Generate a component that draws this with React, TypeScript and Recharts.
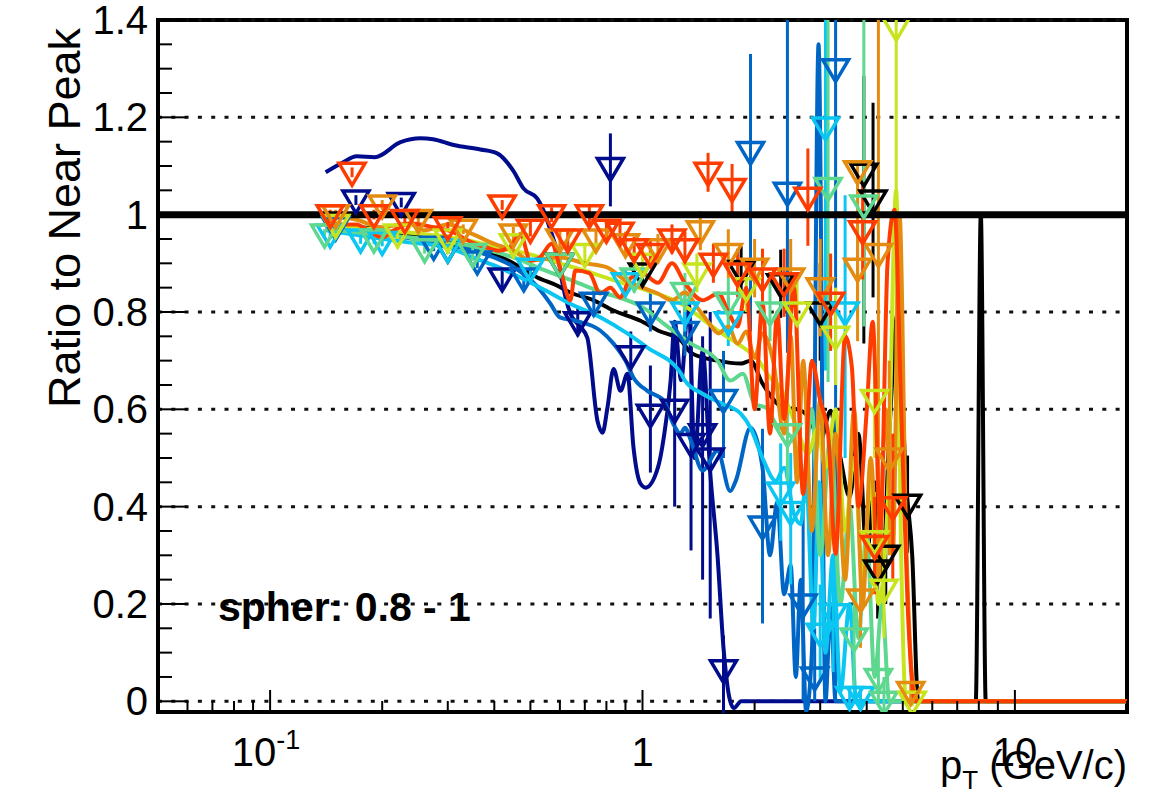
import React from 'react'
import {
  ComposedChart,
  ErrorBar,
  Line,
  ReferenceArea,
  ReferenceLine,
  Scatter,
  XAxis,
  YAxis,
} from 'recharts'

const WIDTH = 1154
const HEIGHT = 795
const FONT = '"Liberation Sans", Arial, Helvetica, sans-serif'

const X_DOMAIN: [number, number] = [0.05, 20]
const Y_DOMAIN: [number, number] = [-0.022, 1.4]

const xTicks = [0.05, 0.06, 0.07, 0.08, 0.09, 0.1, 0.2, 0.3, 0.4, 0.5, 0.6, 0.7, 0.8, 0.9, 1, 2, 3, 4, 5, 6, 7, 8, 9, 10, 20]
const xMajor = [0.1, 1, 10]
const yTicks = [
  0, 0.05, 0.1, 0.15, 0.2, 0.25, 0.3, 0.35, 0.4, 0.45, 0.5, 0.55, 0.6, 0.65, 0.7, 0.75,
  0.8, 0.85, 0.9, 0.95, 1, 1.05, 1.1, 1.15, 1.2, 1.25, 1.3, 1.35, 1.4,
]
const yMajor = [0, 0.2, 0.4, 0.6, 0.8, 1, 1.2, 1.4]
const yGrid = [0, 0.2, 0.4, 0.6, 0.8, 1.2, 1.4]

// smooth curves, [pT, ratio]
const blackCurve = [
  [0.141, 0.988], [0.165, 0.975], [0.19, 0.972], [0.235, 0.957], [0.274, 0.951], [0.311, 0.943],
  [0.367, 0.93], [0.45, 0.9], [0.522, 0.871], [0.591, 0.854], [0.64, 0.84], [0.74, 0.824],
  [0.836, 0.803], [0.988, 0.782], [1.1, 0.762], [1.27, 0.741], [1.35, 0.716], [1.59, 0.7],
  [1.84, 0.694], [1.95, 0.7], [2.1, 0.653], [2.4, 0.603], [2.6, 0.6], [2.8, 0.583], [3.0, 0.535],
  [3.2, 0.597], [3.3, 0.55], [3.4, 0.5], [3.6, 0.42], [3.8, 0.55], [4.0, 0.3], [4.2, 0.45],
  [4.4, 0.25], [4.6, 0.55], [4.85, 0.8], [5.1, 0.45], [5.3, 0.3], [5.5, 0], [7.85, 0], [8.1, 1.0],
  [8.35, 0], [20, 0],
]
const navyCurve = [
  [0.141, 1.087], [0.155, 1.105], [0.171, 1.12], [0.191, 1.118], [0.224, 1.149], [0.253, 1.157],
  [0.274, 1.155], [0.311, 1.143], [0.367, 1.134], [0.407, 1.126], [0.45, 1.09], [0.479, 1.054],
  [0.522, 1.033], [0.542, 1.009], [0.566, 0.968], [0.591, 0.92], [0.61, 0.858], [0.64, 0.797],
  [0.68, 0.77], [0.711, 0.747], [0.757, 0.576], [0.781, 0.552], [0.805, 0.603], [0.836, 0.683],
  [0.873, 0.638], [0.911, 0.673], [0.946, 0.521], [0.988, 0.447], [1.02, 0.439], [1.1, 0.48],
  [1.14, 0.541], [1.19, 0.659], [1.22, 0.78], [1.27, 0.66], [1.33, 0.82], [1.38, 0.5],
  [1.45, 0.72], [1.52, 0.47], [1.59, 0.3], [1.65, 0.11], [1.72, 0], [1.76, -0.014], [1.84, 0],
  [20, 0],
]
const blueCurve = [
  [0.141, 0.975], [0.19, 0.962], [0.235, 0.952], [0.3, 0.938], [0.367, 0.922], [0.45, 0.893],
  [0.522, 0.852], [0.566, 0.817], [0.6, 0.789], [0.66, 0.782], [0.77, 0.762], [0.836, 0.735],
  [0.9, 0.7], [0.946, 0.665], [1.03, 0.638], [1.14, 0.618], [1.21, 0.57], [1.265, 0.55],
  [1.3, 0.562], [1.35, 0.535], [1.45, 0.474], [1.59, 0.515], [1.72, 0.432], [1.78, 0.453],
  [1.95, 0.562], [2.1, 0.48], [2.2, 0.3], [2.3, 0.41], [2.4, 0.22], [2.5, 0.28], [2.58, 0.05],
  [2.66, 0.25], [2.75, -0.02], [2.85, 0.1], [2.97, 1.35], [3.1, 0], [3.2, 0.2], [3.3, 0], [20, 0],
]
const cyanCurve = [
  [0.141, 0.968], [0.19, 0.953], [0.235, 0.943], [0.3, 0.933], [0.35, 0.912], [0.41, 0.892],
  [0.47, 0.871], [0.55, 0.844], [0.64, 0.817], [0.77, 0.789], [0.91, 0.756], [1.03, 0.727],
  [1.27, 0.673], [1.3, 0.659], [1.45, 0.632], [1.64, 0.611], [1.84, 0.59], [1.95, 0.562],
  [2.1, 0.5], [2.28, 0.453], [2.4, 0.48], [2.55, 0.385], [2.66, 0.364], [2.75, 0.453],
  [2.88, 0.15], [2.98, 0.45], [3.1, 0.1], [3.25, 0.3], [3.4, 0.02], [3.6, 0.2], [3.75, 0], [20, 0],
]
const greenCurve = [
  [0.141, 0.97], [0.19, 0.96], [0.26, 0.95], [0.35, 0.935], [0.45, 0.912], [0.55, 0.885],
  [0.66, 0.862], [0.77, 0.842], [0.91, 0.824], [1.0, 0.81], [1.14, 0.776], [1.35, 0.735],
  [1.59, 0.7], [1.72, 0.659], [1.86, 0.673], [2.0, 0.611], [2.15, 0.603], [2.28, 0.57],
  [2.4, 0.556], [2.55, 0.535], [2.7, 0.45], [2.85, 0.6], [3.0, 0.3], [3.2, 0.55], [3.4, 0.2],
  [3.6, 0.4], [3.8, 0.13], [4.0, 0.35], [4.2, 0.05], [4.4, 0.2], [4.6, 0], [20, 0],
]
const yellowCurve = [
  [0.141, 0.98], [0.19, 0.97], [0.26, 0.96], [0.35, 0.945], [0.42, 0.93], [0.49, 0.92],
  [0.6, 0.9], [0.74, 0.879], [0.84, 0.865], [1.03, 0.844], [1.27, 0.817], [1.59, 0.762],
  [1.8, 0.735], [2.05, 0.7], [2.2, 0.665], [2.35, 0.644], [2.45, 0.611], [2.6, 0.562],
  [2.78, 0.508], [2.95, 0.56], [3.1, 0.48], [3.3, 0.6], [3.5, 0.35], [3.7, 0.5], [3.9, 0.25],
  [4.1, 0.45], [4.3, 0.2], [4.55, 0.4], [4.8, 1.05], [4.95, 0.3], [5.1, 0], [20, 0],
]
const orangeCurve = [
  [0.141, 1.0], [0.17, 0.99], [0.2, 0.974], [0.235, 0.982], [0.26, 0.968], [0.3, 0.98],
  [0.35, 0.96], [0.4, 0.94], [0.45, 0.926], [0.5, 0.906], [0.6, 0.912], [0.7, 0.9], [0.8, 0.892],
  [0.9, 0.865], [1.0, 0.85], [1.1, 0.838], [1.2, 0.824], [1.3, 0.84], [1.4, 0.81], [1.5, 0.78],
  [1.6, 0.756], [1.7, 0.77], [1.8, 0.735], [1.9, 0.76], [2.0, 0.706], [2.1, 0.756], [2.25, 0.694],
  [2.4, 0.55], [2.5, 0.75], [2.6, 0.45], [2.7, 0.7], [2.85, 0.35], [3.0, 0.62], [3.15, 0.3],
  [3.3, 0.55], [3.5, 0.25], [3.7, 0.6], [3.9, 0.2], [4.1, 0.5], [4.3, 0.25], [4.5, 0.6],
  [4.7, 0.3], [4.9, 1.0], [5.1, 0.35], [5.3, 0.05], [5.5, 0], [20, 0],
]
const redCurve = [
  [0.141, 1.0], [0.15, 0.98], [0.17, 0.98], [0.19, 0.96], [0.2, 0.953], [0.215, 0.968],
  [0.24, 0.982], [0.275, 0.974], [0.31, 0.964], [0.34, 0.947], [0.38, 0.933], [0.41, 0.926],
  [0.44, 0.933], [0.47, 0.96], [0.5, 0.906], [0.53, 0.912], [0.57, 0.94], [0.6, 0.892],
  [0.64, 0.824], [0.66, 0.885], [0.72, 0.88], [0.77, 0.838], [0.82, 0.85], [0.87, 0.83],
  [0.93, 0.87], [1.0, 0.879], [1.1, 0.86], [1.2, 0.9], [1.3, 0.859], [1.45, 0.824], [1.6, 0.838],
  [1.7, 0.8], [1.8, 0.77], [1.9, 0.85], [2.0, 0.6], [2.1, 0.82], [2.2, 0.55], [2.3, 0.8],
  [2.4, 0.58], [2.55, 0.85], [2.7, 0.426], [2.85, 0.7], [3.0, 0.618], [3.15, 0.55], [3.3, 0.303],
  [3.5, 0.75], [3.65, 0.686], [3.8, 0.4], [4.0, 0.597], [4.15, 0.78], [4.35, 0.35], [4.55, 0.9],
  [4.75, 1.01], [4.95, 0.6], [5.15, 0.2], [5.4, 0], [20, 0],
]

// markers, [pT, ratio, err down, err up]
const blackMarks = [
  [0.3, 0.93, 0.01, 0.01], [0.6, 0.9, 0.02, 0.02], [1.0, 0.88, 0.03, 0.03], [1.84, 0.885, 0.05, 0.05],
  [2.35, 0.858, 0.07, 0.07], [3.0, 0.8, 0.1, 0.1], [3.93, 1.085, 0.35, 0.2], [4.16, 1.03, 0.2, 0.2],
  [4.28, 0.27, 0.1, 0.1], [4.5, 0.3, 0.1, 0.1], [5.15, 0.405, 0.1, 0.1],
]
const navyMarks = [
  [0.17, 1.03, 0.01, 0.01], [0.225, 1.025, 0.01, 0.01], [0.42, 0.87, 0.02, 0.02], [0.67, 0.78, 0.03, 0.03],
  [0.82, 1.097, 0.08, 0.07], [0.93, 0.71, 0.05, 0.05], [1.05, 0.59, 0.12, 0.1], [1.22, 0.6, 0.2, 0.15],
  [1.35, 0.53, 0.22, 0.25], [1.45, 0.55, 0.3, 0.2], [1.52, 0.5, 0.33, 0.3], [1.65, 0.065, 0.09, 0.07],
]
const blueMarks = [
  [0.15, 0.975, 0.01, 0.01], [0.275, 0.935, 0.01, 0.01], [0.36, 0.905, 0.015, 0.015], [0.48, 0.87, 0.02, 0.02],
  [0.74, 0.82, 0.03, 0.03], [1.05, 0.8, 0.04, 0.04], [1.3, 0.76, 0.05, 0.05], [1.65, 0.62, 0.12, 0.1],
  [1.95, 1.13, 0.37, 0.2], [2.1, 0.36, 0.2, 0.2], [2.45, 1.046, 0.33, 0.354], [2.7, 0.2, 0.2, 0.2],
  [2.9, 0.05, 0.05, 0.1], [3.3, 1.3, 1.3, 0.1],
]
const cyanMarks = [
  [0.145, 0.96, 0.01, 0.01], [0.175, 0.95, 0.01, 0.01], [0.2, 0.945, 0.01, 0.01], [0.3, 0.93, 0.01, 0.01],
  [0.5, 0.89, 0.02, 0.02], [0.9, 0.86, 0.03, 0.03], [1.3, 0.8, 0.04, 0.04], [1.7, 0.78, 0.05, 0.05],
  [2.35, 0.43, 0.1, 0.1], [2.5, 0.39, 0.15, 0.12], [3.0, 0.14, 0.1, 0.1], [3.1, 1.18, 0.5, 0.22],
  [3.25, 0.18, 0.12, 0.1], [3.5, 0.8, 0.3, 0.24], [3.6, 0.01, 0.02, 0.02], [3.85, 0.01, 0.02, 0.02],
]
const greenMarks = [
  [0.14, 0.96, 0.01, 0.01], [0.19, 0.95, 0.01, 0.01], [0.26, 0.93, 0.01, 0.01], [0.35, 0.92, 0.015, 0.015],
  [0.6, 0.9, 0.02, 0.02], [0.95, 0.87, 0.03, 0.03], [1.3, 0.84, 0.04, 0.04], [1.7, 0.82, 0.05, 0.05],
  [2.2, 0.8, 0.06, 0.06], [2.45, 0.55, 0.1, 0.1], [3.15, 1.056, 0.4, 0.344], [3.7, 0.13, 0.1, 0.1],
  [3.93, 1.02, 0.25, 0.38], [4.3, 0.047, 0.05, 0.08], [4.45, 0, 0.02, 0.05],
]
const yellowMarks = [
  [0.15, 0.98, 0.01, 0.01], [0.22, 0.96, 0.01, 0.01], [0.3, 0.95, 0.01, 0.01], [0.45, 0.94, 0.015, 0.015],
  [0.7, 0.92, 0.02, 0.02], [1.0, 0.9, 0.03, 0.03], [1.4, 0.88, 0.04, 0.04], [1.9, 0.85, 0.05, 0.05],
  [2.6, 0.8, 0.08, 0.08], [3.3, 0.75, 0.1, 0.1], [4.2, 0.62, 0.12, 0.12], [4.2, 0.33, 0.1, 0.1],
  [4.45, 0.23, 0.1, 0.1], [4.8, 1.385, 0.9, 0.015], [5.3, 0, 0.01, 0.02],
]
const orangeMarks = [
  [0.15, 1.0, 0.01, 0.01], [0.2, 1.02, 0.01, 0.01], [0.25, 0.99, 0.01, 0.01], [0.33, 0.97, 0.01, 0.01],
  [0.45, 0.96, 0.015, 0.015], [0.6, 0.95, 0.02, 0.02], [0.75, 0.95, 0.02, 0.02], [0.9, 0.94, 0.025, 0.025],
  [1.1, 0.93, 0.03, 0.03], [1.43, 0.967, 0.04, 0.04], [1.7, 0.92, 0.05, 0.05], [2.0, 0.89, 0.06, 0.06],
  [2.5, 0.87, 0.08, 0.08], [3.0, 0.85, 0.1, 0.1], [3.78, 1.09, 0.35, 0.02], [3.78, 0.89, 0.1, 0.1],
  [3.85, 0.21, 0.1, 0.1], [4.3, 0.92, 0.6, 0.48], [4.6, 0.5, 0.2, 0.2], [5.25, 0.02, 0.02, 0.02],
]
const redMarks = [
  [0.145, 1.0, 0.01, 0.01], [0.166, 1.087, 0.01, 0.01], [0.19, 1.0, 0.01, 0.01], [0.23, 0.99, 0.01, 0.01],
  [0.3, 0.975, 0.01, 0.01], [0.42, 1.02, 0.01, 0.01], [0.5, 0.97, 0.015, 0.015], [0.57, 1.0, 0.015, 0.015],
  [0.63, 0.95, 0.02, 0.02], [0.72, 1.0, 0.02, 0.02], [0.8, 0.97, 0.02, 0.02], [0.87, 0.964, 0.025, 0.025],
  [0.95, 0.93, 0.025, 0.025], [1.05, 0.92, 0.03, 0.03], [1.2, 0.95, 0.03, 0.03], [1.3, 0.93, 0.035, 0.035],
  [1.5, 1.087, 0.04, 0.04], [1.55, 0.9, 0.04, 0.04], [1.74, 1.054, 0.05, 0.05], [1.8, 0.88, 0.05, 0.05],
  [2.1, 0.87, 0.06, 0.06], [2.4, 0.86, 0.07, 0.07], [2.78, 1.036, 0.1, 0.1], [3.2, 0.82, 0.1, 0.1],
  [3.9, 0.967, 0.1, 0.1], [4.2, 0.32, 0.1, 0.1], [4.7, 0.4, 0.15, 0.15],
]

const series = [
  { name: 'black', color: '#000000', curve: blackCurve, marks: blackMarks },
  { name: 'navy', color: '#000c8c', curve: navyCurve, marks: navyMarks },
  { name: 'blue', color: '#0066c6', curve: blueCurve, marks: blueMarks },
  { name: 'cyan', color: '#0cc6f2', curve: cyanCurve, marks: cyanMarks },
  { name: 'green', color: '#5ed88e', curve: greenCurve, marks: greenMarks },
  { name: 'yellow', color: '#c8e41e', curve: yellowCurve, marks: yellowMarks },
  { name: 'orange', color: '#e48c10', curve: orangeCurve, marks: orangeMarks },
  { name: 'red', color: '#ff3c00', curve: redCurve, marks: redMarks },
]

// open inverted triangle, ROOT style
const triangle = (color: string) => (props: any) => {
  const { cx, cy } = props
  if (cx == null || cy == null) return <g />
  return (
    <path
      d={`M${cx - 13},${cy - 9}L${cx + 13},${cy - 9}L${cx},${cy + 13}Z`}
      fill="none"
      stroke={color}
      strokeWidth={3.5}
    />
  )
}

function XTick(props: any) {
  const { x, y, payload } = props
  const v = payload.value
  const major = xMajor.includes(v)
  return (
    <g>
      <line x1={x} x2={x} y1={y} y2={y - (major ? 22 : 11)} stroke="#000" strokeWidth={2} />
      {v === 0.1 && (
        <text x={x - 4} y={766} textAnchor="middle" fontSize={40} fontFamily={FONT} fill="#000">
          10<tspan dy={-17} fontSize={27}>-1</tspan>
        </text>
      )}
      {v === 1 && (
        <text x={x} y={766} textAnchor="middle" fontSize={40} fontFamily={FONT} fill="#000">1</text>
      )}
      {v === 10 && (
        <text x={x} y={766} textAnchor="middle" fontSize={40} fontFamily={FONT} fill="#000">10</text>
      )}
    </g>
  )
}

function YTick(props: any) {
  const { x, y, payload } = props
  const v = payload.value
  const major = yMajor.some((m) => Math.abs(m - v) < 1e-6)
  return (
    <g>
      <line x1={x} x2={x + (major ? 29 : 14)} y1={y} y2={y} stroke="#000" strokeWidth={2} />
      {major && (
        <text x={x - 10} y={y + 14} textAnchor="end" fontSize={40} fontFamily={FONT} fill="#000">
          {v === 0 ? '0' : v === 1 ? '1' : v.toFixed(1)}
        </text>
      )}
    </g>
  )
}

export default function App() {
  return (
    <div style={{ position: 'absolute', left: 0, top: 0, width: WIDTH, height: HEIGHT, background: '#fff' }}>
      <ComposedChart width={WIDTH} height={HEIGHT} margin={{ top: 20, right: 27, bottom: 0, left: 0 }}>
        <XAxis
          dataKey="x"
          type="number"
          scale="log"
          domain={X_DOMAIN}
          allowDataOverflow
          ticks={xTicks}
          interval={0}
          height={83}
          axisLine={false}
          tickLine={false}
          tickSize={0}
          tickMargin={0}
          tick={<XTick />}
        />
        <YAxis
          dataKey="y"
          type="number"
          domain={Y_DOMAIN}
          allowDataOverflow
          ticks={yTicks}
          interval={0}
          width={158}
          axisLine={false}
          tickLine={false}
          tickSize={0}
          tickMargin={0}
          tick={<YTick />}
        />
        {yGrid.map((v) => (
          <ReferenceLine key={`g${v}`} y={v} stroke="#111" strokeWidth={3} strokeDasharray="4 9.3" />
        ))}
        {series.map((s) => [
          <Line
            key={`l-${s.name}`}
            data={s.curve.map(([x, y]) => ({ x, y }))}
            dataKey="y"
            type="monotone"
            stroke={s.color}
            strokeWidth={4}
            dot={false}
            activeDot={false}
            isAnimationActive={false}
          />,
          <Scatter
            key={`s-${s.name}`}
            data={s.marks.map(([x, y, lo, hi]) => ({ x, y, err: [lo, hi] }))}
            dataKey="y"
            shape={triangle(s.color)}
            isAnimationActive={false}
          >
            <ErrorBar dataKey="err" direction="y" width={0} stroke={s.color} strokeWidth={3} />
          </Scatter>,
        ])}
        <ReferenceLine y={1} stroke="#000" strokeWidth={7} />
        <ReferenceArea
          x1={X_DOMAIN[0]}
          x2={X_DOMAIN[1]}
          y1={Y_DOMAIN[0]}
          y2={Y_DOMAIN[1]}
          fill="none"
          fillOpacity={0}
          stroke="#000"
          strokeWidth={4}
          ifOverflow="visible"
        />
      </ComposedChart>
      <svg
        width={WIDTH}
        height={HEIGHT}
        style={{ position: 'absolute', left: 0, top: 0, pointerEvents: 'none' }}
        fontFamily={FONT}
      >
        <text transform="translate(80,218) rotate(-90)" textAnchor="middle" fontSize={45} fill="#000">
          Ratio to Near Peak
        </text>
        <text x={1127} y={779} textAnchor="end" fontSize={40} fill="#000">
          p<tspan dy={10} fontSize={26}>T</tspan>
          <tspan dy={-10}> (GeV/c)</tspan>
        </text>
        <text x={218} y={621} fontSize={41} fontWeight="bold" fill="#000">
          spher: 0.8 - 1
        </text>
      </svg>
    </div>
  )
}
